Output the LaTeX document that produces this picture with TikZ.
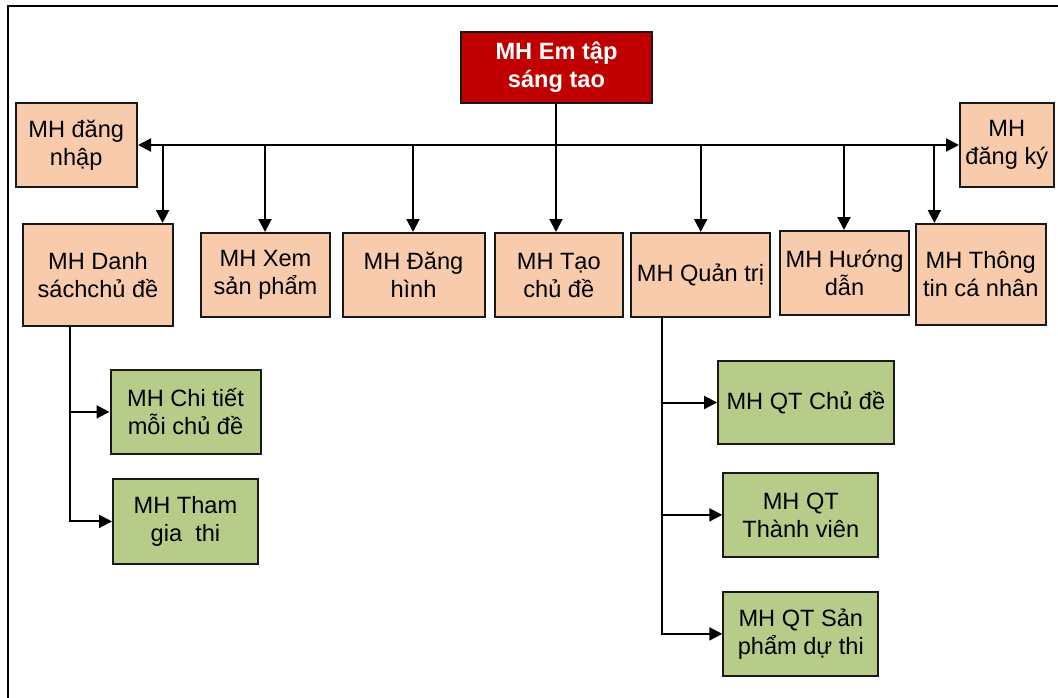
\documentclass[tikz,border=0pt]{standalone}
\usepackage{fontspec}
\setmainfont{Liberation Sans}
\usetikzlibrary{arrows.meta}
\definecolor{peach}{HTML}{F8CBAD}
\definecolor{olive}{HTML}{B7CC88}
\definecolor{darkred}{HTML}{C00000}
\begin{document}
\begin{tikzpicture}[x=1pt,y=-1pt,
  every node/.style={font=\fontsize{23.6}{28}\selectfont, align=center, inner sep=0pt},
  screen/.style={draw=black!90, line width=2pt, rectangle, fill=peach},
  subscreen/.style={draw=black!90, line width=2pt, rectangle, fill=olive},
  mainscreen/.style={draw=black!90, line width=2pt, rectangle, fill=darkred,
    text=white, font=\fontsize{23.6}{28}\selectfont\bfseries},
  link/.style={line width=2pt, draw=black},
  arr/.style={link, -{Triangle[length=13pt,width=13pt]}}]
\useasboundingbox (0,0) rectangle (1058,698);
% outer frame (top and left edges)
\draw[line width=2.2pt] (8,698) -- (8,6) -- (1058,6);

% main screen
\node[mainscreen, minimum width=191pt, minimum height=71pt] (root) at (556.5,67.5) {MH Em tập\\sáng tao};

% side screens
\node[screen, minimum width=121.5pt, minimum height=84pt] (login) at (76.25,145) {MH đăng\\nhập};
\node[screen, minimum width=93.6pt, minimum height=84pt] (reg) at (1006.8,145) {MH\\đăng ký};

% second level screens
\node[screen, minimum width=150pt, minimum height=102pt] (danh) at (98,275) {MH Danh\\sáchchủ đề};
\node[screen, minimum width=129pt, minimum height=84pt] (xem) at (265.5,275) {MH Xem\\sản phẩm};
\node[screen, minimum width=142pt, minimum height=84pt] (dang) at (413.5,275) {MH Đăng\\hình};
\node[screen, minimum width=128.4pt, minimum height=84pt] (tao) at (558.8,275) {MH Tạo\\chủ đề};
\node[screen, minimum width=139pt, minimum height=84pt] (qtri) at (700.5,275) {MH Quản trị};
\node[screen, minimum width=129pt, minimum height=84pt] (huong) at (844.5,273) {MH Hướng\\dẫn};
\node[screen, minimum width=129.5pt, minimum height=101pt] (info) at (980.75,274.5) {MH Thông\\tin cá nhân};

% topic screens
\node[subscreen, minimum width=150pt, minimum height=83.7pt] (chitiet) at (185.5,411.9) {MH Chi tiết\\mỗi chủ đề};
\node[subscreen, minimum width=145pt, minimum height=84.7pt] (thamgia) at (185.5,521.4) {MH Tham\\gia\ \ thi};

% administration screens
\node[subscreen, minimum width=175.7pt, minimum height=83pt] (qtchu) at (805.9,402.5) {MH QT Chủ đề};
\node[subscreen, minimum width=155pt, minimum height=84.3pt] (qttv) at (800.8,514.9) {MH QT\\Thành viên};
\node[subscreen, minimum width=155pt, minimum height=84.3pt] (qtsp) at (800.8,633.9) {MH QT Sản\\phẩm dự thi};

% main bus
\coordinate (bus) at (556,145);
\draw[arr] (root.south -| bus) -- (bus |- tao.north);
\draw[arr] (bus) -- (login.east);
\draw[arr] (bus) -- (reg.west);

% drops from the bus
\coordinate (d1) at (162.6,145);
\coordinate (d2) at (265,145);
\coordinate (d3) at (413,145);
\coordinate (d5) at (700.7,145);
\coordinate (d6) at (844,145);
\coordinate (d7) at (934.4,145);
\draw[arr] (d1) -- (d1 |- danh.north);
\draw[arr] (d2) -- (d2 |- xem.north);
\draw[arr] (d3) -- (d3 |- dang.north);
\draw[arr] (d5) -- (d5 |- qtri.north);
\draw[arr] (d6) -- (d6 |- huong.north);
\draw[arr] (d7) -- (d7 |- info.north);

% topic branch
\coordinate (ltrunk) at (69.6,326);
\draw[arr] (ltrunk) |- (thamgia.west);
\draw[arr] (ltrunk |- chitiet.west) -- (chitiet.west);

% administration branch
\coordinate (rtrunk) at (661.7,317);
\draw[arr] (rtrunk) |- (qtsp.west);
\draw[arr] (rtrunk |- qtchu.west) -- (qtchu.west);
\draw[arr] (rtrunk |- qttv.west) -- (qttv.west);
\end{tikzpicture}
\end{document}
